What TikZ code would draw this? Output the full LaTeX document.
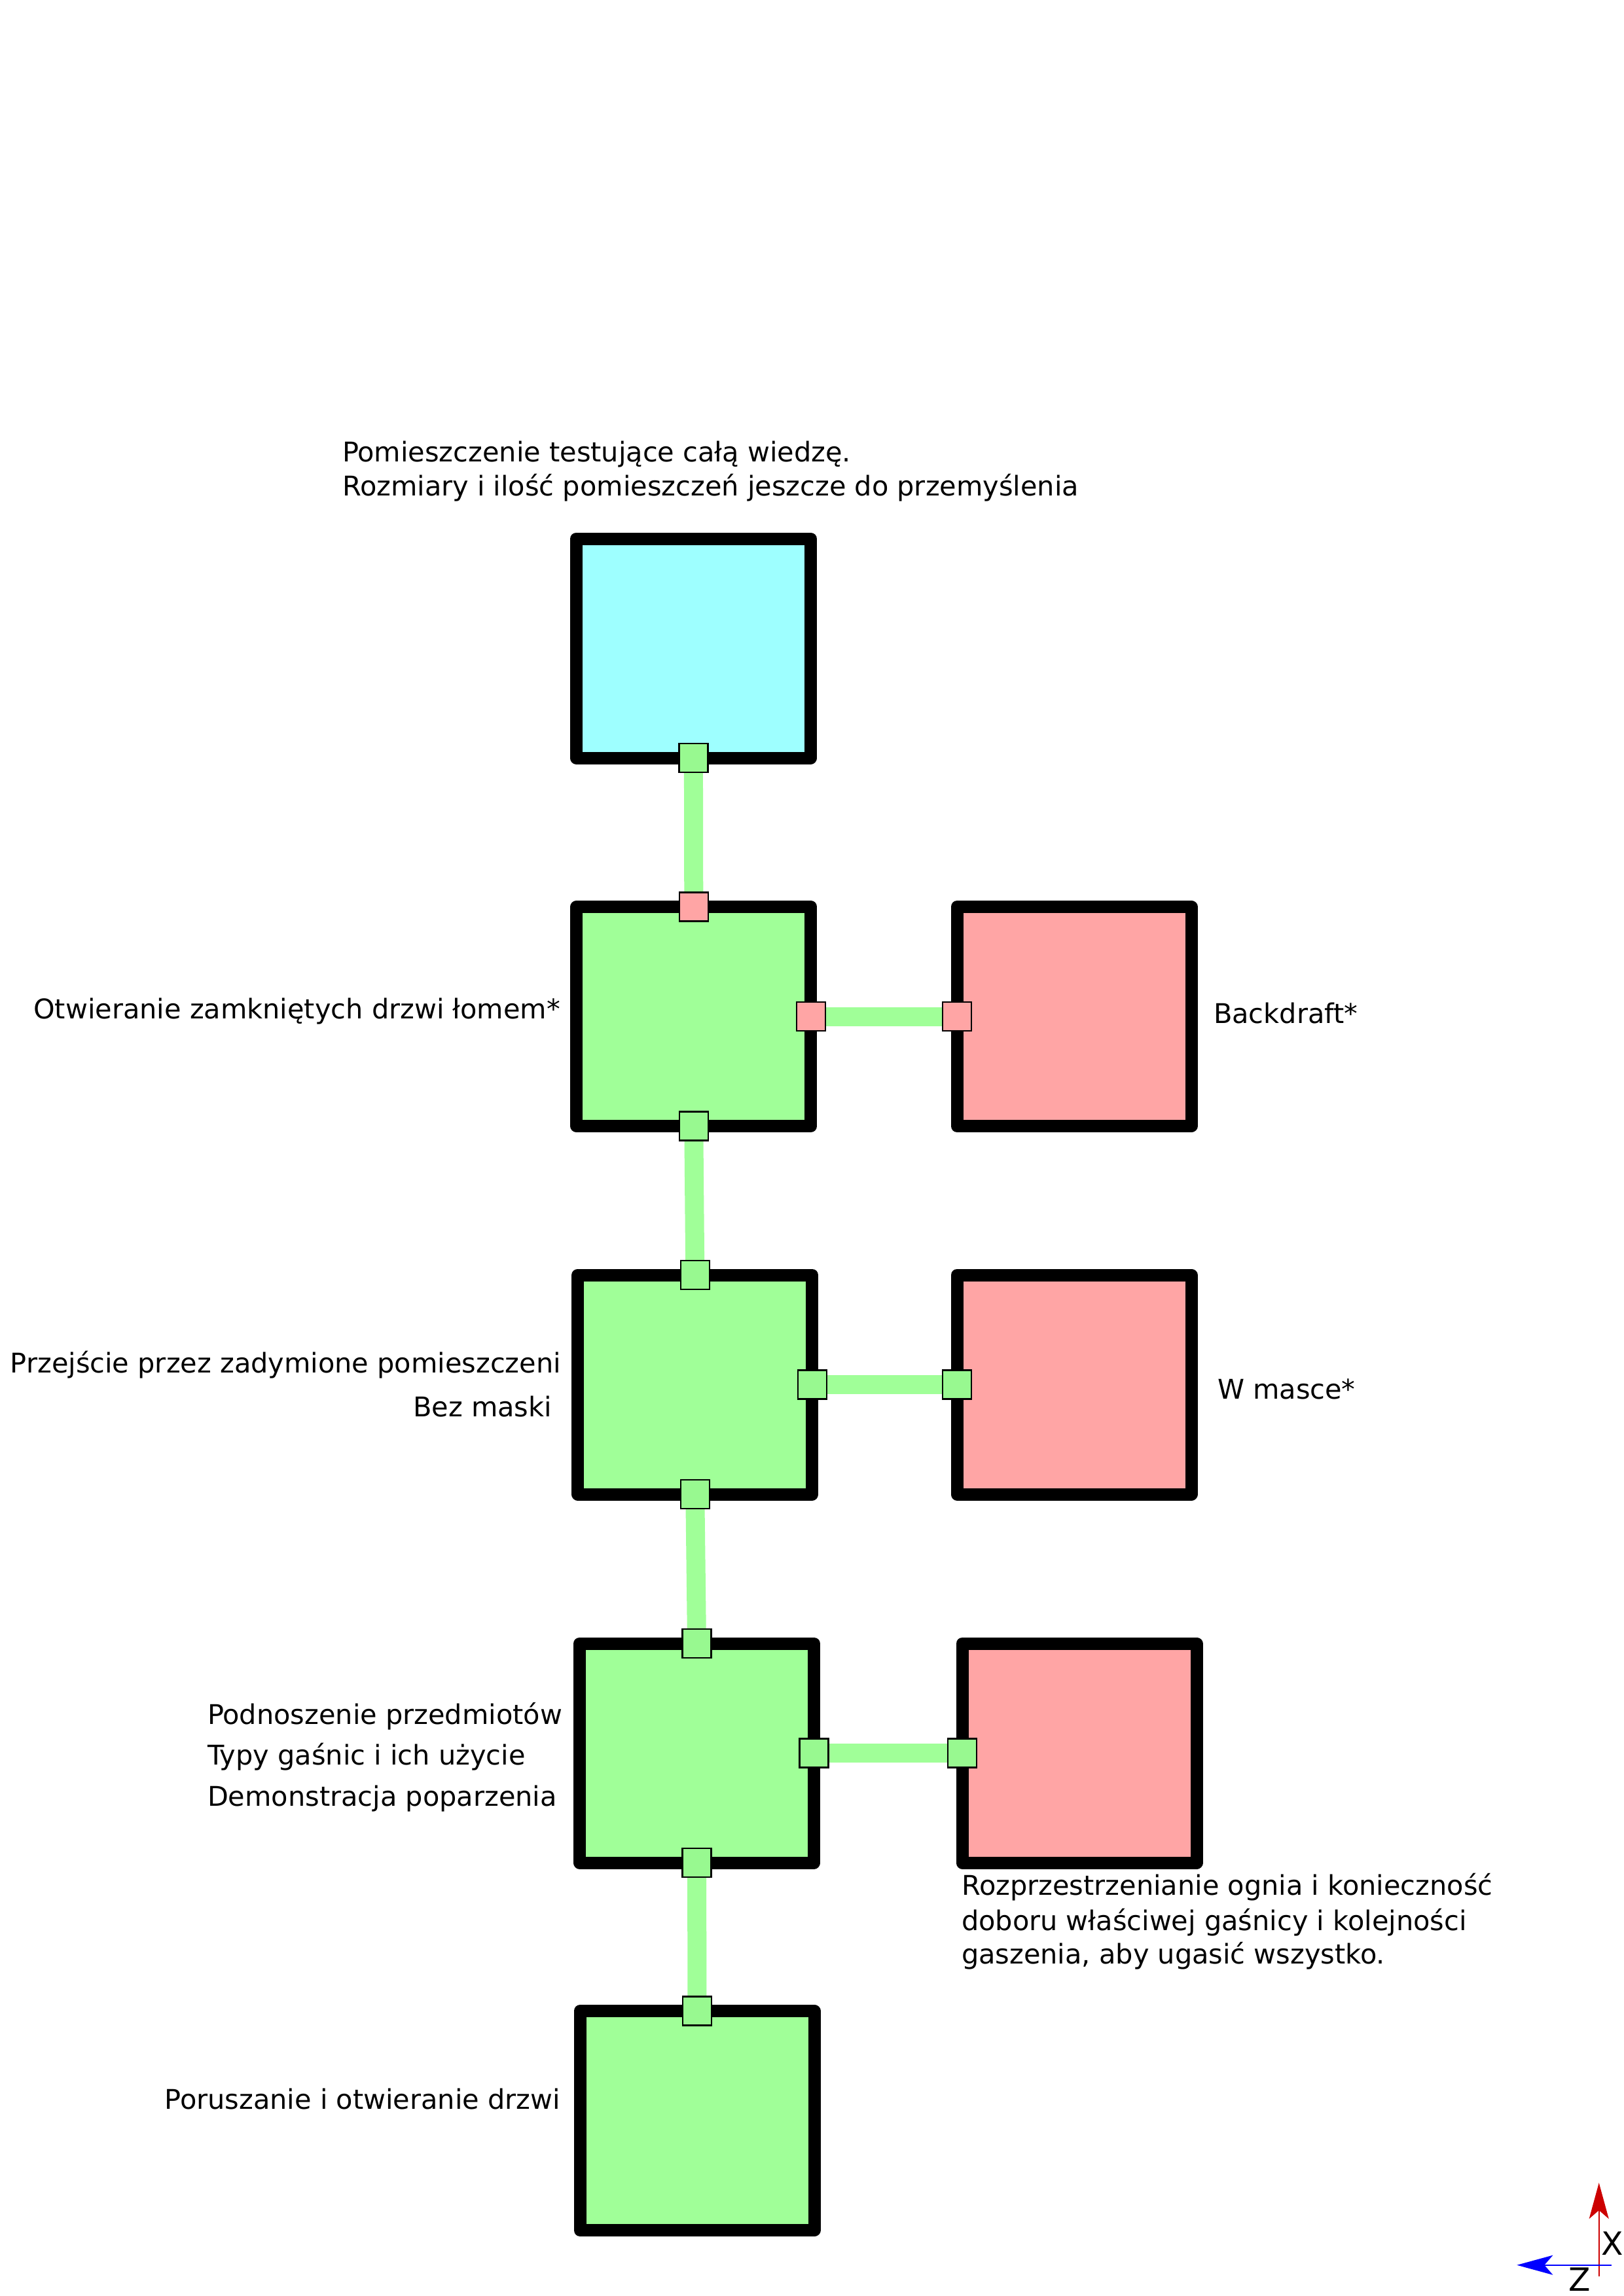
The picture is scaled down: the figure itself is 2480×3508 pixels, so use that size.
\documentclass[tikz,border=0pt]{standalone}
\usepackage{fontspec}
\setmainfont{DejaVu Sans}
\usetikzlibrary{arrows.meta}
\pgfdeclarelayer{fg}
\pgfsetlayers{main,fg}
\definecolor{roomcyan}{HTML}{9EFFFF}
\definecolor{roomgreen}{HTML}{A0FF98}
\definecolor{roomred}{HTML}{FFA5A5}
\definecolor{doorgreen}{HTML}{98F990}
\definecolor{axred}{HTML}{CC0000}
\definecolor{axblue}{HTML}{0000FF}
\tikzset{
  room/.style={draw=black, line width=1.9mm, line join=round, inner sep=0pt, outer sep=0pt,
    minimum width=35.8mm, minimum height=33.5mm},
  door/.style={draw=black, line width=0.25mm, inner sep=0pt, outer sep=0pt, minimum size=4.4mm},
  corr/.style={draw=roomgreen, line width=2.9mm},
  lbl/.style={inner sep=0pt, outer sep=0pt, font=\fontsize{11.8}{13}\selectfont},
  axlbl/.style={inner sep=0pt, outer sep=0pt, font=\fontsize{13.9}{16}\selectfont},
  axis/.style={line width=0.2mm, -{Stealth[length=5.5mm, width=3mm, inset=1.3mm]}}
}
\begin{document}
\begin{tikzpicture}[x=0.1mm, y=-0.1mm]
\useasboundingbox (0,0) rectangle (2480,3508);
\fill[white] (0,0) rectangle (2480,3508);

% rooms
\node[room, fill=roomcyan] (r1) at (1059.4,990.5) {};
\node[room, fill=roomgreen] (r2) at (1059.8,1553) {};
\node[room, fill=roomred] (r2r) at (1641,1553) {};
\node[room, fill=roomgreen] (r3) at (1061.8,2115.5) {};
\node[room, fill=roomred] (r3r) at (1641,2115.5) {};
\node[room, fill=roomgreen] (r4) at (1064.5,2678.5) {};
\node[room, fill=roomred] (r4r) at (1649,2678.5) {};
\node[room, fill=roomgreen] (r5) at (1065,3240) {};

% doors
\begin{pgfonlayer}{fg}
\node[door, fill=doorgreen] (d1s) at (r1.south) {};
\node[door, fill=roomred] (d2n) at (r2.north) {};
\node[door, fill=roomred] (d2e) at (r2.east) {};
\node[door, fill=roomred] (d2rw) at (r2r.west) {};
\node[door, fill=doorgreen] (d2s) at (r2.south) {};
\node[door, fill=doorgreen] (d3n) at (r3.north) {};
\node[door, fill=doorgreen] (d3e) at (r3.east) {};
\node[door, fill=doorgreen] (d3rw) at (r3r.west) {};
\node[door, fill=doorgreen] (d3s) at (r3.south) {};
\node[door, fill=doorgreen] (d4n) at (r4.north) {};
\node[door, fill=doorgreen] (d4e) at (r4.east) {};
\node[door, fill=doorgreen] (d4rw) at (r4r.west) {};
\node[door, fill=doorgreen] (d4s) at (r4.south) {};
\node[door, fill=doorgreen] (d5n) at (r5.north) {};
\end{pgfonlayer}

% corridors
\draw[corr] (d1s.center) -- (d2n.center);
\draw[corr] (d2e.center) -- (d2rw.center);
\draw[corr] (d2s.center) -- (d3n.center);
\draw[corr] (d3e.center) -- (d3rw.center);
\draw[corr] (d3s.center) -- (d4n.center);
\draw[corr] (d4e.center) -- (d4rw.center);
\draw[corr] (d4s.center) -- (d5n.center);

% labels
\node[lbl, anchor=base west] (t1a) at (523,706) {Pomieszczenie testujące całą wiedzę.};
\node[lbl, anchor=base west] (t1b) at (523,758) {Rozmiary i ilość pomieszczeń jeszcze do przemyślenia};
\node[lbl, anchor=base east] (t2) at (856,1556) {Otwieranie zamkniętych drzwi łomem*};
\node[lbl, anchor=base west] (t2r) at (1854,1563) {Backdraft*};
\node[lbl, anchor=base east] (t3a) at (857,2097) {Przejście przez zadymione pomieszczeni};
\node[lbl, anchor=base east] (t3b) at (843,2164) {Bez maski};
\node[lbl, anchor=base west] (t3r) at (1860,2137) {W masce*};
\node[lbl, anchor=base west] (t4a) at (317,2634) {Podnoszenie przedmiotów};
\node[lbl, anchor=base west] (t4b) at (317,2696) {Typy gaśnic i ich użycie};
\node[lbl, anchor=base west] (t4c) at (317,2759) {Demonstracja poparzenia};
\node[lbl, anchor=base west] (t4ra) at (1469,2895) {Rozprzestrzenianie ognia i konieczność};
\node[lbl, anchor=base west] (t4rb) at (1469,2949) {doboru właściwej gaśnicy i kolejności};
\node[lbl, anchor=base west] (t4rc) at (1469,3000) {gaszenia, aby ugasić wszystko.};
\node[lbl, anchor=base east] (t5) at (856,3222) {Poruszanie i otwieranie drzwi};

% axes
\coordinate (xs) at (2442.7,3478);
\coordinate (xe) at (2442.7,3335);
\coordinate (zs) at (2461.7,3460.7);
\coordinate (ze) at (2317.3,3460.7);
\draw[axis, axred] (xs) -- (xe);
\draw[axis, axblue] (zs) -- (ze);
\node[axlbl] (xl) at (2463.5,3428) {X};
\node[axlbl] (zl) at (2413,3483) {Z};
\end{tikzpicture}
\end{document}
